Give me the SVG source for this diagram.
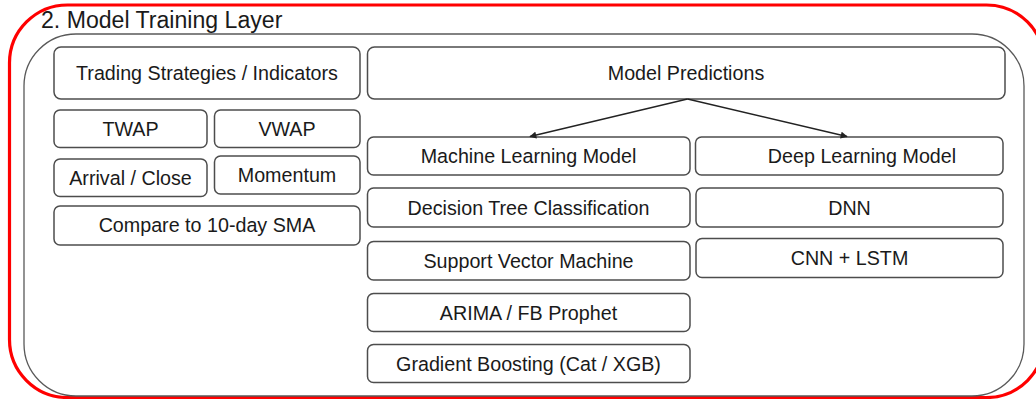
<svg xmlns="http://www.w3.org/2000/svg" width="1036" height="399" viewBox="0 0 1036 399">
<style>
.box{fill:#fff;stroke:#4d4d4d;stroke-width:1.5}
.t{font-family:"Liberation Sans",Arial,sans-serif;font-size:19.7px;fill:#1a1a1a;text-anchor:middle}
.title{font-family:"Liberation Sans",Arial,sans-serif;font-size:23.1px;fill:#1a1a1a}
.conn{stroke:#222;stroke-width:1.3;fill:none}
</style>
<defs>
<marker id="ah" viewBox="0 0 10 10" refX="9" refY="5" markerWidth="9" markerHeight="7" markerUnits="userSpaceOnUse" orient="auto">
<path d="M0,0 L10,5 L0,10 z" fill="#222"/>
</marker>
</defs>
<rect width="1036" height="399" fill="#fff"/>
<g id="layer">
<rect x="9.5" y="5" width="1035" height="392.5" rx="58" fill="none" stroke="#ff0000" stroke-width="3.2"/>
<rect x="24" y="34" width="1000" height="362" rx="52" fill="none" stroke="#595959" stroke-width="1.3"/>
<text class="title" x="41" y="27.5">2. Model Training Layer</text>
</g>
<g id="trading"><rect class="box" x="54" y="47" width="306" height="52" rx="7"/><text class="t" x="207" y="80">Trading Strategies / Indicators</text></g>
<g id="twap"><rect class="box" x="54" y="110" width="153" height="37.5" rx="6"/><text class="t" x="130.5" y="135.5">TWAP</text></g>
<g id="vwap"><rect class="box" x="214.5" y="110" width="145.5" height="37.5" rx="6"/><text class="t" x="287" y="135.5">VWAP</text></g>
<g id="arrival"><rect class="box" x="54" y="159" width="153" height="37.5" rx="6"/><text class="t" x="130.5" y="184.5">Arrival / Close</text></g>
<g id="momentum"><rect class="box" x="214.5" y="156" width="145.5" height="38" rx="6"/><text class="t" x="287" y="181.5">Momentum</text></g>
<g id="sma"><rect class="box" x="54" y="206" width="306" height="39" rx="6"/><text class="t" x="207" y="232">Compare to 10-day SMA</text></g>
<g id="predictions"><rect class="box" x="367.5" y="47" width="637.5" height="52" rx="7"/><text class="t" x="686" y="80">Model Predictions</text></g>
<g id="ml"><rect class="box" x="367.5" y="137" width="322.5" height="38" rx="6"/><text class="t" x="528.5" y="163">Machine Learning Model</text></g>
<g id="dl"><rect class="box" x="695.5" y="137" width="307.5" height="38" rx="6"/><text class="t" x="862" y="163">Deep Learning Model</text></g>
<g id="dtree"><rect class="box" x="367.5" y="188" width="322.5" height="39" rx="6"/><text class="t" x="528.5" y="214.5">Decision Tree Classification</text></g>
<g id="dnn"><rect class="box" x="696" y="188" width="307" height="39" rx="6"/><text class="t" x="849.5" y="214.5">DNN</text></g>
<g id="svm"><rect class="box" x="367.5" y="241.5" width="322.5" height="38.5" rx="6"/><text class="t" x="528.5" y="267.5">Support Vector Machine</text></g>
<g id="cnn"><rect class="box" x="696" y="238.5" width="307" height="39" rx="6"/><text class="t" x="849.5" y="265">CNN + LSTM</text></g>
<g id="arima"><rect class="box" x="367.5" y="293.5" width="322.5" height="38" rx="6"/><text class="t" x="528.5" y="319.5">ARIMA / FB Prophet</text></g>
<g id="gb"><rect class="box" x="367.5" y="344.5" width="322.5" height="38" rx="6"/><text class="t" x="528.5" y="370.5">Gradient Boosting (Cat / XGB)</text></g>
<g id="connectors">
<line class="conn" x1="687.5" y1="99" x2="530" y2="136.5" marker-end="url(#ah)"/>
<line class="conn" x1="687.5" y1="99" x2="847" y2="136.5" marker-end="url(#ah)"/>
</g>
</svg>
